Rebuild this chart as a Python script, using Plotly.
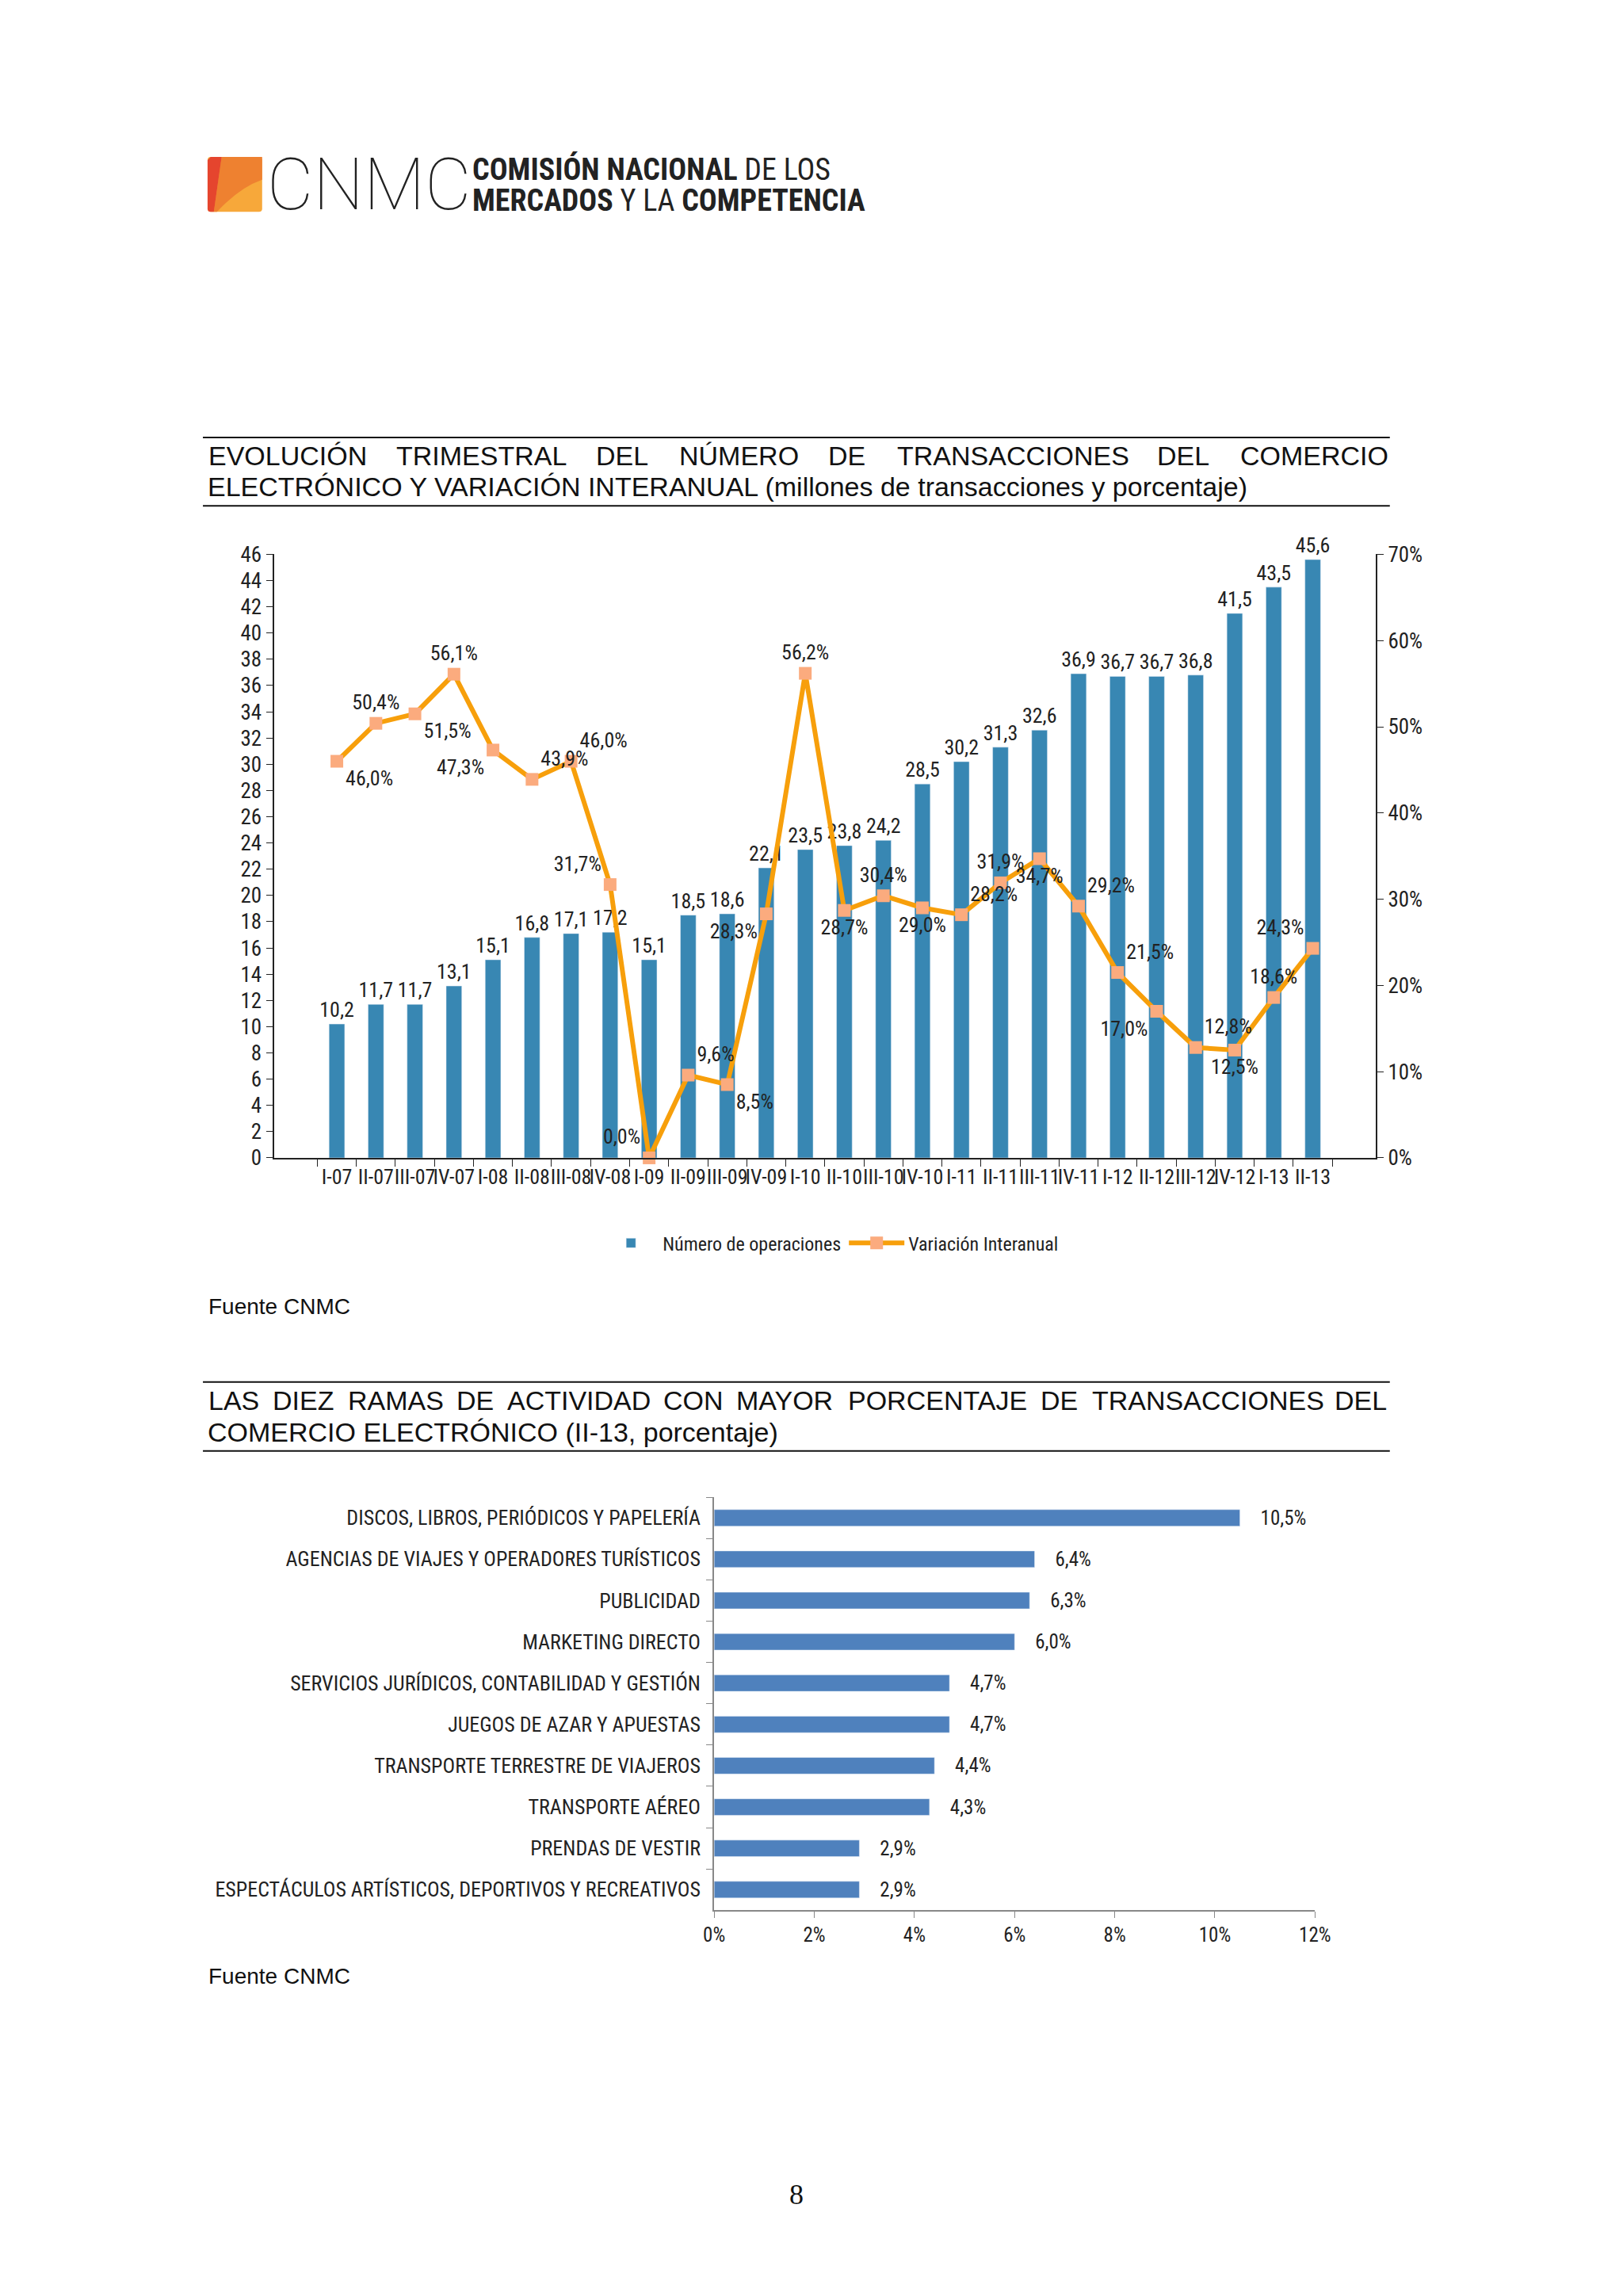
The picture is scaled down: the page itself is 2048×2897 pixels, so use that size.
import plotly.graph_objects as go

# ---------------- DATA ----------------
quarters = ["I-07", "II-07", "III-07", "IV-07", "I-08", "II-08", "III-08", "IV-08",
            "I-09", "II-09", "III-09", "IV-09", "I-10", "II-10", "III-10", "IV-10",
            "I-11", "II-11", "III-11", "IV-11", "I-12", "II-12", "III-12", "IV-12",
            "I-13", "II-13"]
operaciones = [10.2, 11.7, 11.7, 13.1, 15.1, 16.8, 17.1, 17.2,
               15.1, 18.5, 18.6, 22.1, 23.5, 23.8, 24.2, 28.5,
               30.2, 31.3, 32.6, 36.9, 36.7, 36.7, 36.8, 41.5,
               43.5, 45.6]
variacion = [46.0, 50.4, 51.5, 56.1, 47.3, 43.9, 46.0, 31.7,
             0.0, 9.6, 8.5, 28.3, 56.2, 28.7, 30.4, 29.0,
             28.2, 31.9, 34.7, 29.2, 21.5, 17.0, 12.8, 12.5,
             18.6, 24.3]
var_label_pos = ["bottom right", "top center", "bottom right", "top center", "bottom left",
                 "top right", "top right", "top left", "top left", "top right",
                 "bottom right", "bottom left", "top center", "bottom center", "top center",
                 "bottom center", "top right", "top center", "bottom center", "top right",
                 "top right", "bottom left", "top right", "bottom center", "top center",
                 "top left"]

ramas = ["DISCOS, LIBROS, PERIÓDICOS Y PAPELERÍA",
         "AGENCIAS DE VIAJES Y OPERADORES TURÍSTICOS",
         "PUBLICIDAD",
         "MARKETING DIRECTO",
         "SERVICIOS JURÍDICOS, CONTABILIDAD Y GESTIÓN",
         "JUEGOS DE AZAR Y APUESTAS",
         "TRANSPORTE TERRESTRE DE VIAJEROS",
         "TRANSPORTE AÉREO",
         "PRENDAS DE VESTIR",
         "ESPECTÁCULOS ARTÍSTICOS, DEPORTIVOS Y RECREATIVOS"]
ramas_pct = [10.5, 6.4, 6.3, 6.0, 4.7, 4.7, 4.4, 4.3, 2.9, 2.9]

# ---------------- LAYOUT HELPERS ----------------
W, H = 2048, 2897
def px(x):
    return x / W
def py(y):
    return 1 - y / H

NARROW = "Liberation Sans Narrow, Arial Narrow, Roboto Condensed, Open Sans Condensed, DejaVu Sans Condensed, Liberation Sans, Arial"
SANS = "Liberation Sans, Arial, sans-serif"

def nfont(size, color="#222"):
    return dict(family=NARROW, size=size, color=color)

fig = go.Figure()

# Chart 1: bars
fig.add_trace(go.Bar(
    x=quarters, y=operaciones, name="Número de operaciones",
    marker=dict(color="#3887B3"), width=0.4,
    texttemplate="%{y:.1f}", textposition="outside", constraintext="none",
    textfont=nfont(26),
    cliponaxis=False, xaxis="x", yaxis="y"))

# Chart 1: line
fig.add_trace(go.Scatter(
    x=quarters, y=variacion, name="Variación Interanual",
    mode="lines+markers+text",
    line=dict(color="#F79F0B", width=6),
    marker=dict(symbol="square", size=16, color="#FBAB7E"),
    text=[f"{v:.1f}%".replace(".", ",") for v in variacion],
    textposition=var_label_pos,
    textfont=nfont(26),
    cliponaxis=False, xaxis="x", yaxis="y2"))

# Chart 2: horizontal bars
fig.add_trace(go.Bar(
    y=ramas, x=ramas_pct, orientation="h", showlegend=False,
    marker=dict(color="#4F81BD"), width=0.4,
    texttemplate="    %{x:.1f}%", textposition="outside", constraintext="none",
    textfont=nfont(25),
    cliponaxis=False, xaxis="x3", yaxis="y3"))

fig.update_layout(
    width=W, height=H,
    margin=dict(l=0, r=0, t=0, b=0),
    paper_bgcolor="white", plot_bgcolor="white",
    separators=",.",
    font=dict(family=SANS, color="#111"),
    xaxis=dict(domain=[px(329), px(1743)], anchor="y", type="category",
               tickson="boundaries", ticks="outside", ticklen=9, tickcolor="#222",
               showline=True, linecolor="#222", linewidth=2, showgrid=False,
               tickfont=nfont(26), tickangle=0),
    yaxis=dict(domain=[py(1453), py(683)], anchor="x", range=[0, 46], dtick=2,
               ticks="outside", ticklen=8, tickcolor="#222",
               showline=True, linecolor="#222", linewidth=2, showgrid=False,
               zeroline=False, tickfont=nfont(27)),
    yaxis2=dict(overlaying="y", side="right", anchor="x", range=[0, 70], dtick=10,
                ticksuffix="%", ticks="outside", ticklen=8, tickcolor="#222",
                showline=True, linecolor="#222", linewidth=2, showgrid=False,
                zeroline=False, tickfont=nfont(27)),
    xaxis3=dict(domain=[px(894), px(1665)], anchor="y3", range=[0, 12], dtick=2,
                ticksuffix="%", ticks="outside", ticklen=8, tickcolor="#888",
                showline=True, linecolor="#888", linewidth=2, showgrid=False,
                zeroline=False, tickfont=nfont(25)),
    yaxis3=dict(domain=[py(2413), py(1886)], anchor="x3", type="category",
                autorange="reversed", tickson="boundaries", ticks="outside",
                ticklen=8, tickcolor="#888", showline=True, linecolor="#888",
                linewidth=2, showgrid=False, tickfont=nfont(26),
                ticklabelstandoff=10),
    legend=dict(orientation="h", x=px(1044), xanchor="center", y=py(1562),
                yanchor="middle", font=nfont(24),
                itemwidth=70, bgcolor="rgba(0,0,0,0)"),
)

shapes = []
annotations = []

# horizontal rules around titles
for yy in [534, 621, 1739, 1827]:
    shapes.append(dict(type="line", xref="paper", yref="paper",
                       x0=px(238), x1=px(1761), y0=py(yy), y1=py(yy),
                       line=dict(color="#111", width=2)))

# Logo square
shapes.append(dict(type="path", xref="paper", yref="paper",
                   path=f"M {px(248)} {py(176)} L {px(310)} {py(176)} Q {px(314)} {py(176)} {px(314)} {py(180)} "
                        f"L {px(314)} {py(242)} Q {px(314)} {py(246)} {px(310)} {py(246)} "
                        f"L {px(248)} {py(246)} Q {px(244)} {py(246)} {px(244)} {py(242)} "
                        f"L {px(244)} {py(180)} Q {px(244)} {py(176)} {px(248)} {py(176)} Z",
                   fillcolor="#F7A83A", line=dict(width=0)))
shapes.append(dict(type="path", xref="paper", yref="paper",
                   path=f"M {px(262)} {py(176)} L {px(314)} {py(176)} L {px(314)} {py(205)} "
                        f"Q {px(285)} {py(215)} {px(256)} {py(246)} L {px(252)} {py(246)} Z",
                   fillcolor="#EE8130", line=dict(width=0)))
shapes.append(dict(type="path", xref="paper", yref="paper",
                   path=f"M {px(248)} {py(176)} L {px(262)} {py(176)} L {px(252)} {py(246)} "
                        f"L {px(248)} {py(246)} Q {px(244)} {py(246)} {px(244)} {py(242)} "
                        f"L {px(244)} {py(180)} Z",
                   fillcolor="#E5452E", line=dict(width=0)))

annotations.append(dict(x=px(318), y=py(212), xref="paper", yref="paper",
                        xanchor="left", yanchor="middle", showarrow=False,
                        text="CNMC", font=dict(family="Roboto", size=90, color="#222", weight=100)))
annotations.append(dict(x=px(582), y=py(192), xref="paper", yref="paper",
                        xanchor="left", yanchor="middle", showarrow=False,
                        text="<b>COMISIÓN NACIONAL</b> DE LOS",
                        font=nfont(38)))
annotations.append(dict(x=px(582), y=py(232), xref="paper", yref="paper",
                        xanchor="left", yanchor="middle", showarrow=False,
                        text="<b>MERCADOS</b> Y LA <b>COMPETENCIA</b>",
                        font=nfont(38)))

TITLE_SIZE = 34
title_font = dict(family=SANS, size=TITLE_SIZE, color="#111")

# approximate Arial advance widths (em) for justified uppercase title lines
AW = {"A": .667, "B": .667, "C": .722, "D": .722, "E": .667, "F": .611, "G": .778,
      "H": .722, "I": .278, "J": .5, "K": .667, "L": .556, "M": .833, "N": .722,
      "O": .778, "P": .667, "Q": .778, "R": .722, "S": .667, "T": .611, "U": .722,
      "V": .667, "W": .944, "X": .667, "Y": .667, "Z": .611,
      "Ó": .778, "Ú": .722, "Í": .278, "É": .667, "Á": .667}

def justified(line, x0, x1, y_full):
    ws = line.split()
    widths = [sum(AW.get(c, .6) for c in w) * TITLE_SIZE for w in ws]
    gap = (x1 - x0 - sum(widths)) / (len(ws) - 1)
    x = x0
    for w, wd in zip(ws, widths):
        annotations.append(dict(x=px(x), y=py(y_full), xref="paper", yref="paper",
                                xanchor="left", yanchor="middle", showarrow=False,
                                text=w, font=title_font))
        x += wd + gap

justified("EVOLUCIÓN TRIMESTRAL DEL NÚMERO DE TRANSACCIONES DEL COMERCIO", 243, 1754, 557)
annotations.append(dict(x=px(242), y=py(597), xref="paper", yref="paper",
                        xanchor="left", yanchor="middle", showarrow=False,
                        text="ELECTRÓNICO Y VARIACIÓN INTERANUAL (millones de transacciones y porcentaje)",
                        font=title_font))

justified("LAS DIEZ RAMAS DE ACTIVIDAD CON MAYOR PORCENTAJE DE TRANSACCIONES DEL", 243, 1754, 1762)
annotations.append(dict(x=px(242), y=py(1803), xref="paper", yref="paper",
                        xanchor="left", yanchor="middle", showarrow=False,
                        text="COMERCIO ELECTRÓNICO (II-13, porcentaje)", font=title_font))

for yy in [1643, 2497]:
    annotations.append(dict(x=px(243), y=py(yy), xref="paper", yref="paper",
                            xanchor="left", yanchor="middle", showarrow=False,
                            text="Fuente CNMC", font=dict(family=SANS, size=28, color="#111")))

annotations.append(dict(x=px(1000), y=py(2776), xref="paper", yref="paper",
                        xanchor="center", yanchor="middle", showarrow=False,
                        text="8", font=dict(family="Liberation Serif, Times New Roman, serif",
                                            size=36, color="#111")))

fig.update_layout(shapes=shapes, annotations=annotations)

fig.write_html("out.html")
